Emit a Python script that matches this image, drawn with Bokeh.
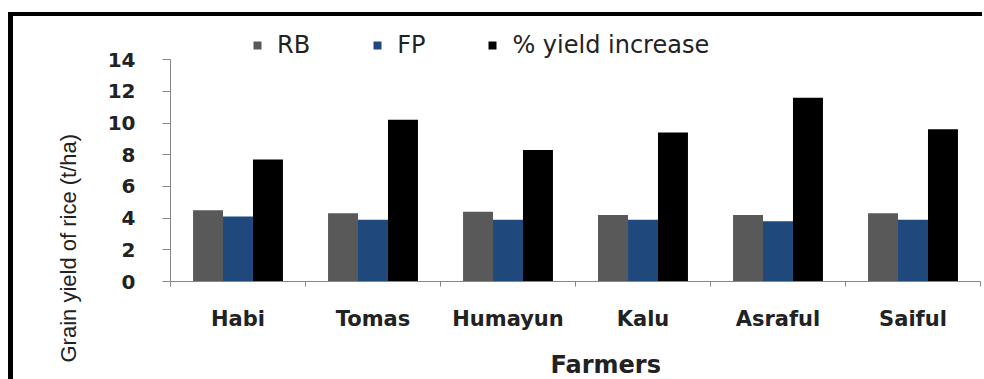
import numpy as np
from bokeh.plotting import figure
from bokeh.layouts import column
from bokeh.models import (Range1d, FixedTicker, LinearAxis, Legend,
                          LegendItem, Title)
from bokeh.embed import file_html
from bokeh.resources import INLINE

# Grain yield of rice per farmer
farmers = ["Habi", "Tomas", "Humayun", "Kalu", "Asraful", "Saiful"]
rb = [4.5, 4.3, 4.4, 4.2, 4.2, 4.3]
fp = [4.1, 3.9, 3.9, 3.9, 3.8, 3.9]
yield_increase = [7.7, 10.2, 8.3, 9.4, 11.6, 9.6]
y_ticks = [0, 2, 4, 6, 8, 10, 12, 14]

GRAY = "#595959"
BLUE = "#1f497d"
BLACK = "#000000"
AXIS = "#868686"
TEXT = "#222222"
SANS = "Liberation Sans"
WIDE = "DejaVu Sans"

n = len(farmers)
centers = np.arange(n) + 0.5
bar_w = 0.222

# frame: 810 x 262 px; y range leaves room for the legend above 14
p = figure(width=969, height=377, output_backend="svg", toolbar_location=None,
           x_range=Range1d(0, n), y_range=Range1d(0, 16.47),
           x_axis_location=None, min_border_left=157, min_border_right=2,
           min_border_top=4, min_border_bottom=111)
p.outline_line_color = None
p.xgrid.visible = False
p.ygrid.visible = False

r_rb = p.vbar(x=centers - bar_w, top=rb, width=bar_w, fill_color=GRAY, line_color=None)
r_fp = p.vbar(x=centers, top=fp, width=bar_w, fill_color=BLUE, line_color=None)
r_yi = p.vbar(x=centers + bar_w, top=yield_increase, width=bar_w, fill_color=BLACK, line_color=None)

# y axis
ya = p.yaxis[0]
ya.ticker = FixedTicker(ticks=y_ticks, minor_ticks=[])
ya.bounds = (0, 14)
ya.axis_line_color = AXIS
ya.major_tick_line_color = AXIS
ya.major_tick_out = 8
ya.major_tick_in = 0
ya.minor_tick_line_color = None
ya.major_label_standoff = 27
ya.major_label_text_font = WIDE
ya.major_label_text_font_style = "bold"
ya.major_label_text_font_size = "20px"
ya.major_label_text_color = TEXT

# x axis: ticks at category boundaries, names at centres
xa = LinearAxis(ticker=FixedTicker(ticks=list(centers), minor_ticks=list(range(n + 1))))
xa.major_label_overrides = {float(c): name for c, name in zip(centers, farmers)}
xa.axis_line_color = AXIS
xa.major_tick_line_color = None
xa.major_tick_out = 0
xa.major_tick_in = 0
xa.minor_tick_line_color = AXIS
xa.minor_tick_out = 5
xa.minor_tick_in = 0
xa.major_label_standoff = 20
xa.major_label_text_font = WIDE
xa.major_label_text_font_style = "bold"
xa.major_label_text_font_size = "21px"
xa.major_label_text_color = TEXT
p.add_layout(xa, "below")

# axis titles
p.add_layout(Title(text="Farmers", align="left", offset=380, standoff=30,
                   text_font=WIDE, text_font_style="bold", text_font_size="24px",
                   text_color=TEXT), "below")
p.add_layout(Title(text="Grain yield of rice (t/ha)", align="left", offset=-81,
                   standoff=47, text_font=SANS, text_font_style="normal",
                   text_font_size="22px", text_color=TEXT), "left")

legend = Legend(items=[LegendItem(label="RB", renderers=[r_rb]),
                       LegendItem(label="FP", renderers=[r_fp]),
                       LegendItem(label="% yield increase", renderers=[r_yi])],
                location=(82, 222), orientation="horizontal",
                glyph_width=10, glyph_height=10, label_standoff=15, spacing=62,
                padding=0, margin=0, border_line_color=None,
                background_fill_alpha=0, label_text_font=WIDE,
                label_text_font_size="24px", label_text_color=TEXT)
p.add_layout(legend)

# black frame line along the top and left of the chart
page = column(p, styles={"margin-top": "12px", "margin-left": "8px",
                         "margin-bottom": "-20px",
                         "border-top": "4px solid black",
                         "border-left": "5px solid black"})

open("out.html", "w").write(file_html(page, INLINE))
